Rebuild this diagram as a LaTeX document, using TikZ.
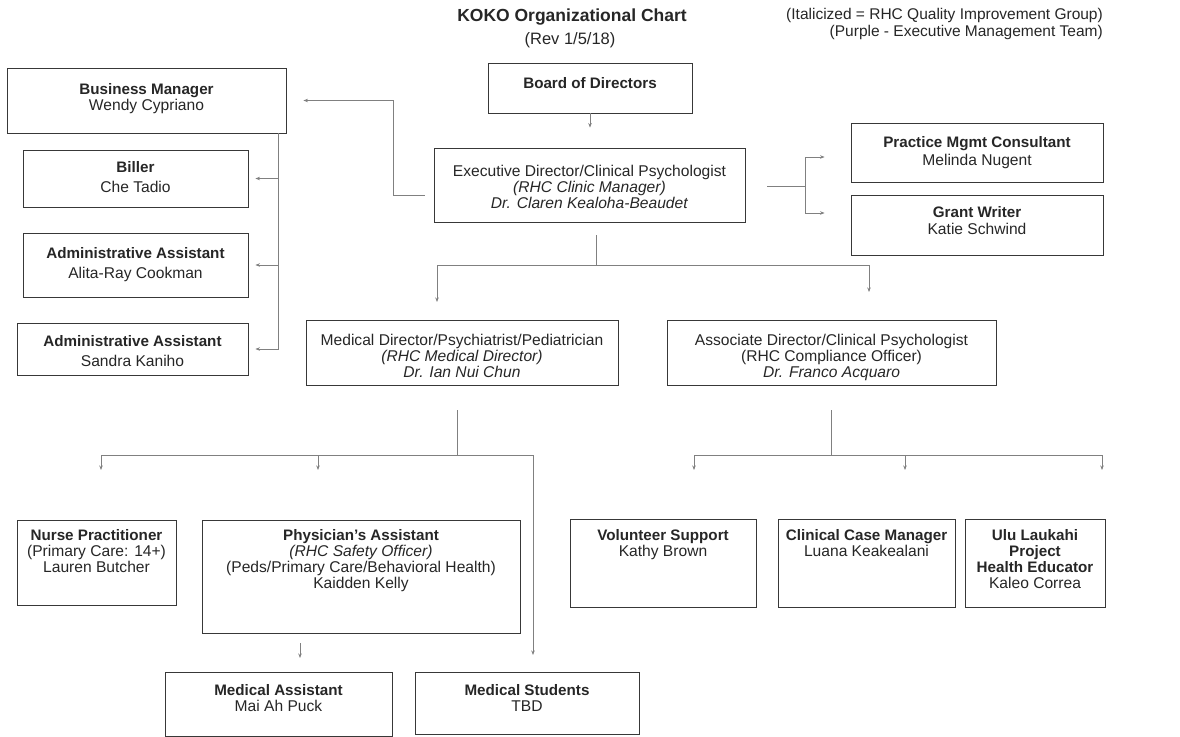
\documentclass[tikz,border=0pt]{standalone}
\usepackage{fontspec}
\setmainfont{Liberation Sans}
\usetikzlibrary{arrows.meta}
\newcommand\B[1]{{\fontsize{15.2}{16}\selectfont\bfseries #1}}
\tikzset{
  box/.style={draw=black!78, line width=0.9pt, inner sep=0pt},
  txt/.style={inner sep=0pt, align=center, text=black!85, font=\fontsize{15.6}{16}\selectfont, anchor=north, execute at begin node=\strut},
  conn/.style={draw=black!50, line width=0.7pt},
  arr/.style={conn, -{Stealth[length=4.5pt,width=3.5pt]}},
  hdr/.style={inner sep=0pt, text=black!85},
}
\newcommand\obox[7]{%
  \node[box, minimum width={(#4)-(#2)}, minimum height={(#5)-(#3)}] (#1) at ({((#2)+(#4))/2},{((#3)+(#5))/2}) {};
  \node[txt] (#1t) at ({((#2)+(#4))/2},{(#6)-5.5}) {#7};
}
\begin{document}
\begin{tikzpicture}[x=1pt,y=-1pt]
\useasboundingbox (0,0) rectangle (1180,736);
% headers
\node[hdr, font=\bfseries\fontsize{17.5}{20}\selectfont] (title) at (572,17) {KOKO Organizational Chart};
\node[hdr, font=\fontsize{16.5}{20}\selectfont] (rev) at (570,40) {(Rev 1/5/18)};
\node[hdr, anchor=east, font=\fontsize{15.5}{17}\selectfont] (note1) at (1103,15) {(Italicized = RHC Quality Improvement Group)};
\node[hdr, anchor=east, font=\fontsize{15.5}{17}\selectfont] (note2) at (1103,32) {(Purple - Executive Management Team)};
% boxes
\obox{board}{488}{63}{692}{113}{83}{\B{Board of Directors}}
\obox{exec}{434}{148}{745}{222}{170}{Executive Director/Clinical Psychologist\\\textit{(RHC Clinic Manager)}\\\textit{Dr. Claren Kealoha-Beaudet}}
\obox{bm}{7}{68}{286}{133}{89}{\B{Business Manager}\\Wendy Cypriano}
\obox{biller}{23}{150}{248}{207}{167}{\B{Biller}\\[4pt]Che Tadio}
\obox{alita}{23}{233}{248}{297}{253}{\B{Administrative Assistant}\\[4pt]Alita-Ray Cookman}
\obox{sandra}{17}{323}{248}{375}{341}{\B{Administrative Assistant}\\[4pt]Sandra Kaniho}
\obox{pmc}{851}{123}{1103}{182}{142}{\B{Practice Mgmt Consultant}\\[2pt]Melinda Nugent}
\obox{grant}{851}{195}{1103}{255}{212}{\B{Grant Writer}\\[1pt]Katie Schwind}
\obox{meddir}{306}{320}{618}{385}{339}{Medical Director/Psychiatrist/Pediatrician\\\textit{(RHC Medical Director)}\\\textit{Dr. Ian Nui Chun}}
\obox{assoc}{667}{320}{996}{385}{339}{Associate Director/Clinical Psychologist\\(RHC Compliance Officer)\\\textit{Dr. Franco Acquaro}}
\obox{nurse}{17}{520}{176}{605}{535}{\B{Nurse Practitioner}\\(Primary Care: 14+)\\Lauren Butcher}
\obox{pa}{202}{520}{520}{633}{535}{\B{Physician's Assistant}\\\textit{(RHC Safety Officer)}\\(Peds/Primary Care/Behavioral Health)\\Kaidden Kelly}
\obox{medasst}{165}{672}{392}{736}{690}{\B{Medical Assistant}\\Mai Ah Puck}
\obox{medstud}{415}{672}{639}{734}{690}{\B{Medical Students}\\TBD}
\obox{volunteer}{570}{519}{756}{607}{535}{\B{Volunteer Support}\\Kathy Brown}
\obox{clinical}{778}{519}{955}{607}{535}{\B{Clinical Case Manager}\\Luana Keakealani}
\obox{ulu}{965}{519}{1105}{607}{535}{\B{Ulu Laukahi}\\\B{Project}\\\B{Health Educator}\\Kaleo Correa}
% connectors
\draw[arr, shorten >=20pt] (board.south) -- (board.south |- exec.north);
\coordinate (bmj) at (393,195);
\draw[arr] ([xshift=-9pt]exec.west |- bmj) -- (bmj) |- ([xshift=17pt]bm.east);
\draw[arr] ([xshift=-8pt]bm.south east) |- ([xshift=7pt]biller.east);
\draw[arr] ([xshift=-8pt]bm.south east) |- ([xshift=7pt]alita.east);
\draw[arr] ([xshift=-8pt]bm.south east) |- ([xshift=7pt]sandra.east);
\coordinate (rj) at (805,186);
\draw[conn] ([xshift=22pt]exec.east |- rj) -- (rj);
\draw[arr] (rj) |- ([xshift=-26pt]pmc.west |- 0,157);
\draw[arr] (rj) |- ([xshift=-26pt]grant.west |- 0,213);
\coordinate (ej) at (596,265);
\draw[conn] (596,235) -- (ej);
\draw[arr] (ej) -| (437,302);
\draw[arr] (ej) -| (869,292);
\coordinate (mj) at (457,455);
\draw[conn] (457,410) -- (mj);
\draw[arr] (mj) -| (101,470);
\draw[arr] (mj) -| (318,470);
\draw[arr] (mj) -| (533,655);
\draw[arr] (300,643) -- (300,658);
\coordinate (aj) at (831,455);
\draw[conn] (831,410) -- (aj);
\draw[arr] (aj) -| (694,470);
\draw[arr] (aj) -| (905,470);
\draw[arr] (aj) -| (1102,470);
\end{tikzpicture}
\end{document}
